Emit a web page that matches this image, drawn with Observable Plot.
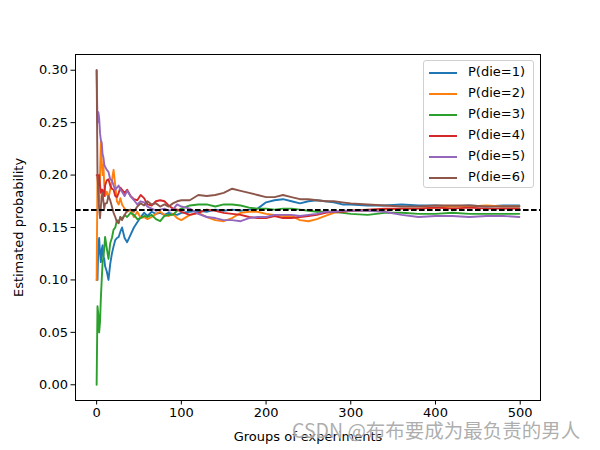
<!DOCTYPE html>
<html>
<head>
<meta charset="utf-8">
<script src="https://cdn.jsdelivr.net/npm/d3@7"></script>
<script src="https://cdn.jsdelivr.net/npm/@observablehq/plot@0.6"></script>
<style>
  body { margin: 0; background: white; }
  #wrap { position: relative; width: 600px; height: 450px; font-family: "DejaVu Sans", sans-serif; }
  #legend { position: absolute; left: 423px; top: 60px; width: 111px; height: 128px;
    border: 1px solid #d0d0d0; border-radius: 3px; background: rgba(255,255,255,0.85); box-sizing: border-box; }
  .row { position: absolute; left: 0; height: 20px; font-size: 13px; color: black; }
  .sw { position: absolute; left: 5px; width: 28px; height: 2px; top: 9px; }
  .lb { position: absolute; left: 44px; top: 1px; white-space: nowrap; }
  #wm { position: absolute; left: 292px; top: 415px; font-size: 19.5px; color: rgba(160,160,160,0.85);
    font-family: "Noto Sans CJK SC", "DejaVu Sans", sans-serif; white-space: nowrap;
    text-shadow: 0 0 2px white; }
</style>
</head>
<body>
<div id="wrap"></div>
<script>
const xs = [0,1,2,3,4,5,6,7,8,9,10,
  12,14,16,18,20,22,24,26,28,30,
  33,36,40,44,48,52,56,60,
  65,70,75,80,85,90,95,100,
  110,120,130,140,150,160,170,180,190,200,
  210,220,230,240,250,260,270,280,290,300,
  320,340,360,380,400,420,440,460,480,499];

const p1 = [0.10,0.10,0.133,0.14,0.125,0.117,0.129,0.133,0.122,0.12,0.113,
  0.108,0.100,0.115,0.125,0.132,0.138,0.140,0.141,0.146,0.150,
  0.140,0.136,0.143,0.150,0.155,0.160,0.164,0.161,
  0.165,0.163,0.164,0.162,0.164,0.163,0.162,0.164,
  0.165,0.166,0.165,0.167,0.166,0.167,0.166,0.167,0.168,0.174,
  0.176,0.177,0.175,0.173,0.175,0.176,0.175,0.174,0.172,0.172,
  0.171,0.171,0.172,0.171,0.171,0.170,0.171,0.170,0.171,0.171];

const p2 = [0.10,0.20,0.20,0.175,0.20,0.233,0.214,0.20,0.21,0.19,0.18,
  0.184,0.178,0.186,0.195,0.205,0.190,0.175,0.172,0.178,0.172,
  0.168,0.165,0.167,0.160,0.165,0.159,0.160,0.158,
  0.160,0.163,0.165,0.162,0.161,0.163,0.159,0.157,
  0.162,0.164,0.160,0.157,0.156,0.159,0.164,0.165,0.165,0.163,
  0.162,0.161,0.161,0.157,0.156,0.158,0.161,0.164,0.165,0.166,
  0.166,0.167,0.168,0.168,0.169,0.170,0.170,0.171,0.170,0.170];

const p3 = [0.00,0.075,0.067,0.05,0.06,0.083,0.10,0.116,0.122,0.13,0.141,
  0.130,0.120,0.135,0.140,0.148,0.150,0.157,0.155,0.160,0.158,
  0.162,0.160,0.164,0.162,0.158,0.159,0.161,0.160,
  0.162,0.158,0.156,0.161,0.162,0.162,0.166,0.168,
  0.171,0.172,0.172,0.170,0.172,0.172,0.171,0.169,0.168,0.168,
  0.167,0.168,0.168,0.167,0.166,0.165,0.165,0.165,0.164,0.163,
  0.162,0.164,0.164,0.163,0.163,0.164,0.163,0.163,0.163,0.163];

const p4 = [0.20,0.20,0.19,0.20,0.19,0.183,0.186,0.186,0.183,0.18,0.19,
  0.195,0.196,0.190,0.187,0.186,0.180,0.179,0.183,0.188,0.186,
  0.183,0.186,0.180,0.177,0.176,0.181,0.178,0.172,
  0.171,0.175,0.176,0.175,0.171,0.168,0.167,0.165,
  0.162,0.164,0.167,0.166,0.164,0.163,0.162,0.160,0.159,0.159,
  0.161,0.159,0.159,0.160,0.161,0.162,0.164,0.165,0.165,0.166,
  0.167,0.168,0.168,0.168,0.169,0.168,0.169,0.168,0.168,0.168];

const p5 = [0.30,0.25,0.26,0.254,0.24,0.233,0.231,0.22,0.217,0.21,0.208,
  0.205,0.203,0.196,0.195,0.190,0.186,0.188,0.190,0.186,0.184,
  0.180,0.185,0.180,0.176,0.172,0.175,0.174,0.170,
  0.168,0.166,0.167,0.168,0.166,0.167,0.172,0.170,
  0.168,0.163,0.160,0.159,0.157,0.157,0.156,0.159,0.160,0.160,
  0.162,0.162,0.162,0.161,0.162,0.163,0.165,0.165,0.166,0.166,
  0.166,0.165,0.162,0.160,0.161,0.161,0.160,0.161,0.161,0.160];

const p6 = [0.30,0.20,0.183,0.167,0.159,0.17,0.18,0.183,0.175,0.168,0.173,
  0.173,0.180,0.176,0.170,0.164,0.160,0.155,0.154,0.160,0.157,
  0.162,0.166,0.167,0.165,0.170,0.173,0.171,0.175,
  0.172,0.173,0.170,0.172,0.170,0.173,0.175,0.176,
  0.176,0.181,0.180,0.181,0.183,0.187,0.185,0.183,0.181,0.179,
  0.179,0.181,0.179,0.177,0.177,0.176,0.175,0.175,0.174,0.173,
  0.172,0.171,0.170,0.170,0.171,0.171,0.171,0.170,0.170,0.170];

const seriesNames = ["P(die=1)","P(die=2)","P(die=3)","P(die=4)","P(die=5)","P(die=6)"];
const seriesValues = [p1,p2,p3,p4,p5,p6];
const colors = ["#1f77b4","#ff7f0e","#2ca02c","#d62728","#9467bd","#8c564b"];
const xTicks = [0,100,200,300,400,500];
const yTicks = [0,0.05,0.10,0.15,0.20,0.25,0.30];
const expected = [1/6];

const data = seriesNames.flatMap((name, i) =>
  xs.map((x, j) => ({x, y: seriesValues[i][j], name})));

const chart = Plot.plot({
  width: 600, height: 450,
  marginLeft: 75, marginRight: 60, marginTop: 54, marginBottom: 50,
  style: {fontFamily: "DejaVu Sans", fontSize: "13px", color: "black", background: "white", overflow: "visible"},
  x: {domain: [-24.95, 523.95]},
  y: {domain: [-0.015, 0.315]},
  color: {domain: seriesNames, range: colors},
  marks: [
    Plot.line(data, {x: "x", y: "y", z: "name", stroke: "name", strokeWidth: 1.9}),
    Plot.ruleY(expected, {stroke: "black", strokeWidth: 1.9, strokeDasharray: "5.6,2.4"}),
    Plot.frame({stroke: "black", strokeWidth: 1}),
    Plot.axisX({ticks: xTicks, tickSize: 4.5, tickPadding: 3, label: "Groups of experiments",
      labelAnchor: "center", labelArrow: "none", labelOffset: 40, fill: "black"}),
    Plot.axisY({ticks: yTicks, tickFormat: d3.format(".2f"), tickSize: 4.5, tickPadding: 3,
      label: "Estimated probability", labelAnchor: "center", labelArrow: "none", labelOffset: 62, fill: "black"})
  ]
});

const wrap = document.getElementById("wrap");
wrap.appendChild(chart);

const legend = document.createElement("div");
legend.id = "legend";
seriesNames.forEach((name, i) => {
  const row = document.createElement("div");
  row.className = "row";
  row.style.top = (2 + i * 20.9) + "px";
  row.style.width = "100%";
  const sw = document.createElement("div");
  sw.className = "sw";
  sw.style.background = colors[i];
  const lb = document.createElement("div");
  lb.className = "lb";
  lb.textContent = name;
  row.appendChild(sw); row.appendChild(lb);
  legend.appendChild(row);
});
wrap.appendChild(legend);

const wm = document.createElement("div");
wm.id = "wm";
wm.textContent = "CSDN @布布要成为最负责的男人";
wrap.appendChild(wm);
</script>
</body>
</html>
